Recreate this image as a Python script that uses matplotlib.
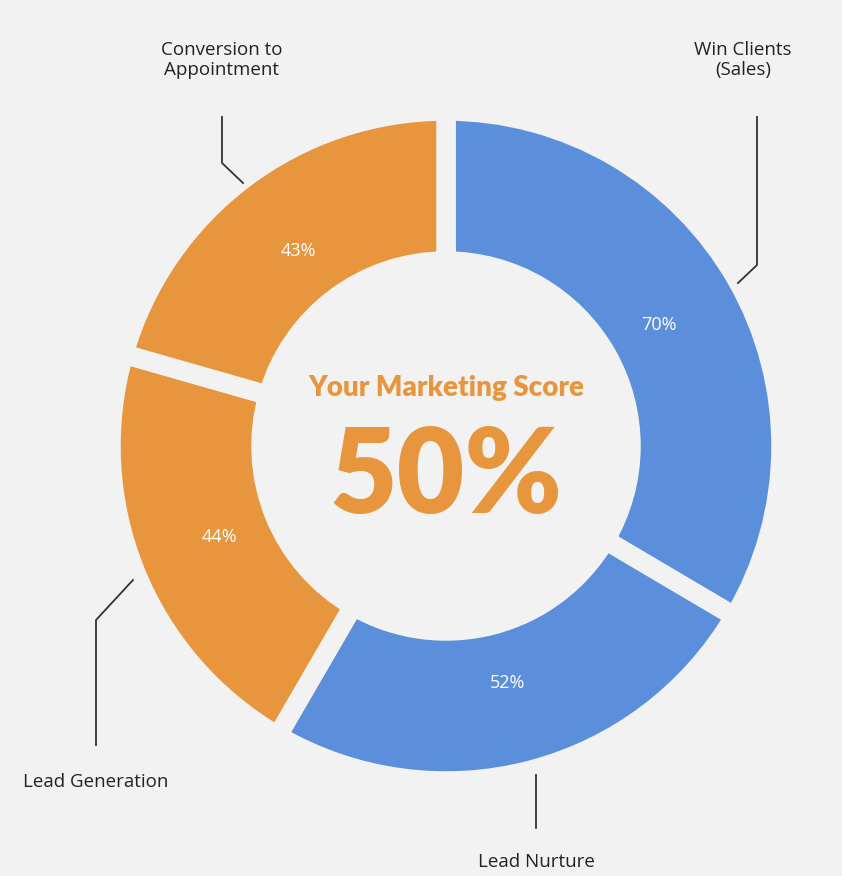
import matplotlib
matplotlib.use('Agg')
import matplotlib.pyplot as plt

labels = ['Win Clients\n(Sales)', 'Lead Nurture', 'Lead Generation', 'Conversion to\nAppointment']
values = [70, 52, 44, 43]
colors = ['#5B8FDB', '#5B8FDB', '#E8963E', '#E8963E']
score = 50

bg = '#F2F2F2'
fig = plt.figure(figsize=(8.42, 8.76), dpi=100, facecolor=bg)
ax = fig.add_axes([0, 0, 1, 1])
ax.set_facecolor(bg)
ax.set_xlim(0, 842)
ax.set_ylim(0, 876)
ax.axis('off')

H = 876
cx, cy = 446, H - 446
wedges, _, autotexts = ax.pie(values, colors=colors, startangle=90, counterclock=False,
                              center=(cx, cy), radius=335, autopct=lambda p: '',
                              pctdistance=0.73,
                              wedgeprops=dict(width=150, edgecolor=bg, linewidth=14, joinstyle='round'))
for t, v in zip(autotexts, values):
    t.set_text(f'{v}%')
    t.set_color('white')
    t.set_fontsize(13)
    t.set_family('Open Sans')
ax.set_xlim(0, 842)
ax.set_ylim(0, 876)
ax.set_aspect('auto')

# leader lines (pixel coords, y from top)
leaders = [
    [(738, 283), (757, 265), (757, 117)],
    [(536, 775), (536, 828)],
    [(133, 580), (96, 620), (96, 745)],
    [(243, 183), (222, 163), (222, 117)],
]
label_pos = [(743, 60), (536, 862), (96, 782), (222, 60)]
for pts, lab, (lx, ly) in zip(leaders, labels, label_pos):
    ax.plot([p[0] for p in pts], [H - p[1] for p in pts], color='#333333', lw=1.3)
    ax.text(lx, H - ly, lab, ha='center', va='center', fontsize=13.5,
            family='Open Sans', color='#222222', linespacing=1.1)

ax.text(446, H - 388, 'Your Marketing Score', ha='center', va='center', fontsize=20,
        family='Lato', weight='heavy', color='#E8963E')
ax.text(446, H - 478, f'{score}%', ha='center', va='center', fontsize=84,
        family='Lato', weight='heavy', color='#E8963E')

fig.savefig('out.png', dpi=100, facecolor=bg)
